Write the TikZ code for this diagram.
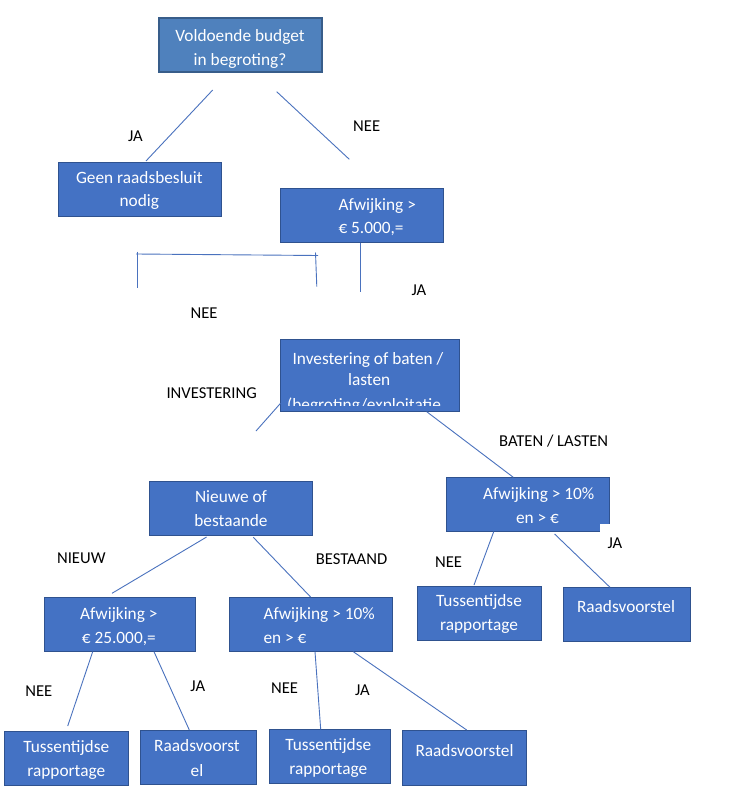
\documentclass[tikz,border=0pt]{standalone}
\usepackage{fontspec}
\setmainfont{Carlito}
\definecolor{boxfill}{HTML}{4472C4}
\definecolor{boxline}{HTML}{2F528F}
\definecolor{topfill}{HTML}{4F81BD}
\definecolor{topline}{HTML}{385D8A}
\definecolor{connc}{HTML}{4A72BE}
\tikzset{
  box/.style={draw=boxline, fill=boxfill, line width=0.9pt, inner sep=0pt, minimum height=54pt},
  topbox/.style={draw=topline, fill=topfill, line width=2.5pt, inner sep=0pt, minimum width=163pt, minimum height=54pt},
  btxt/.style={text=white, font=\fontsize{17.3}{20}\selectfont, inner sep=0pt, anchor=base},
  btxtl/.style={btxt, anchor=base west},
  lbl/.style={text=black, font=\fontsize{16.6}{20}\selectfont, inner sep=0pt, anchor=base},
  connector/.style={draw=connc, line width=0.9pt},
}
\begin{document}
\begin{tikzpicture}[x=1pt,y=-1pt]
\useasboundingbox (0,0) rectangle (736,797);
\fill[white] (0,0) rectangle (736,797);

% ---------- boxes ----------
\node[topbox] (top) at (240.5,45) {};
\node[box, minimum width=163pt] (geen) at (139.5,189) {};
\node[box, minimum width=163pt] (afw5) at (361.5,215) {};
\node[box, minimum width=179pt, minimum height=72pt] (inv) at (369.5,375) {};
\node[box, minimum width=163pt] (nieuw) at (230.5,508) {};
\node[box, minimum width=163pt] (afwR) at (527.5,504) {};
\fill[white] (600,523.5) rectangle (610.5,532);
\node[box, minimum width=151pt] (afw25) at (119.5,624) {};
\node[box, minimum width=163pt] (afwM) at (310.5,624) {};
\node[box, minimum width=124pt] (tusR) at (479,613) {};
\node[box, minimum width=127pt] (raadR) at (626.5,614) {};
\node[box, minimum width=124pt] (tus1) at (66,758) {};
\node[box, minimum width=116pt] (raad1) at (198,757) {};
\node[box, minimum width=121pt] (tus2) at (329.5,756) {};
\node[box, minimum width=124pt, minimum height=55pt] (raad2) at (464,757.5) {};

% ---------- box texts ----------
\begin{scope}
  \clip (top.north west) rectangle ([yshift=4pt]top.south east);
  \node[btxt] (top1) at (240,41.7) {Voldoende budget};
  \node[btxt] (top2) at (240,65.5) {in begroting?};
\end{scope}
\begin{scope}
  \clip (geen.north west) rectangle ([yshift=6.5pt]geen.south east);
  \node[btxt] (geen1) at (139.3,183.3) {Geen raadsbesluit};
  \node[btxt] (geen2) at (139.3,206.7) {nodig};
\end{scope}
\node[btxtl] (afw51) at (338.3,210) {Afwijking >};
\node[btxtl] (afw52) at (338.3,233.3) {€ 5.000,=};
\begin{scope}
  \clip (inv.north west) rectangle ([yshift=5.5pt]inv.south east);
  \node[btxt] (inv1) at (368,364.3) {Investering of baten /};
  \node[btxt] (inv2) at (369.2,385.5) {lasten};
  \node[btxt] (inv3) at (364,410) {(begroting/exploitatie};
\end{scope}
\node[btxt] (nieuw1) at (231,502.5) {Nieuwe of};
\node[btxt] (nieuw2) at (231,526) {bestaande};
\node[btxt] (afwR1) at (538.7,499.3) {Afwijking > 10\%};
\node[btxt] (afwR2) at (537.5,523.3) {en > €};
\node[btxt] (afw251) at (118.8,619.3) {Afwijking >};
\node[btxt] (afw252) at (118.8,643.3) {€ 25.000,=};
\node[btxtl] (afwM1) at (263.3,619.3) {Afwijking > 10\%};
\node[btxtl] (afwM2) at (263.3,643.3) {en > €};
\begin{scope}
  \clip (tusR.north west) rectangle ([yshift=6.5pt]tusR.south east);
  \node[btxt] (tusR1) at (479,606.7) {Tussentijdse};
  \node[btxt] (tusR2) at (479,630) {rapportage};
\end{scope}
\node[btxt] (raadR1) at (626,612.3) {Raadsvoorstel};
\begin{scope}
  \clip (tus1.north west) rectangle ([yshift=4pt]tus1.south east);
  \node[btxt] (tus11) at (66.3,752.3) {Tussentijdse};
  \node[btxt] (tus12) at (66.3,776.7) {rapportage};
\end{scope}
\node[btxt] (raad11) at (197,751.7) {Raadsvoorst};
\node[btxt] (raad12) at (197,776) {el};
\begin{scope}
  \clip (tus2.north west) rectangle ([yshift=4.5pt]tus2.south east);
  \node[btxt] (tus21) at (328.3,750) {Tussentijdse};
  \node[btxt] (tus22) at (328.3,774.3) {rapportage};
\end{scope}
\node[btxt] (raad21) at (464.5,756.7) {Raadsvoorstel};

% ---------- connector end points ----------
\coordinate (c1a) at (212.7,90);   \coordinate (c1b) at (146,161);
\coordinate (c2a) at (276.7,91.7); \coordinate (c2b) at (349.3,159.3);
\coordinate (brL) at (136,254);    \coordinate (brR) at (318,255.5);
\coordinate (brLt) at (137.3,251.7); \coordinate (brLb) at (137.3,288.3);
\coordinate (brRt) at (315.5,252.5); \coordinate (brRb) at (316.8,286.7);
\coordinate (v5a) at (360.7,242.5); \coordinate (v5b) at (360.7,291.7);
\coordinate (i1a) at (280.5,403.3); \coordinate (i1b) at (256,431);
\coordinate (i2a) at (426.7,411.7); \coordinate (i2b) at (513.3,477.3);
\coordinate (n1a) at (206.6,537);   \coordinate (n1b) at (112,593.3);
\coordinate (n2a) at (253.3,537.3); \coordinate (n2b) at (310.6,597);
\coordinate (r1a) at (493.7,531.7); \coordinate (r1b) at (474,585);
\coordinate (r2a) at (554.6,534);   \coordinate (r2b) at (610,587.3);
\coordinate (a1a) at (92.7,651.7);  \coordinate (a1b) at (67.7,726);
\coordinate (a2a) at (154,651.7);   \coordinate (a2b) at (189.3,730);
\coordinate (m1a) at (315,651.7);   \coordinate (m1b) at (320.7,729.3);
\coordinate (m2a) at (353.3,651.7); \coordinate (m2b) at (466.7,730);

% ---------- connectors ----------
\draw[connector] (c1a) -- (c1b);
\draw[connector] (c2a) -- (c2b);
\draw[connector] (brL) -- (brR);
\draw[connector] (brLt) -- (brLb);
\draw[connector] (brRt) -- (brRb);
\draw[connector] (v5a) -- (v5b);
\draw[connector] (i1a) -- (i1b);
\draw[connector] (i2a) -- (i2b);
\draw[connector] (n1a) -- (n1b);
\draw[connector] (n2a) -- (n2b);
\draw[connector] (r1a) -- (r1b);
\draw[connector] (r2a) -- (r2b);
\draw[connector] (a1a) -- (a1b);
\draw[connector] (a2a) -- (a2b);
\draw[connector] (m1a) -- (m1b);
\draw[connector] (m2a) -- (m2b);

% ---------- labels ----------
\node[lbl] (l1) at (135.5,141.7) {JA};
\node[lbl] (l2) at (366.7,131.7) {NEE};
\node[lbl] (l3) at (419,295.7) {JA};
\node[lbl] (l4) at (204,318.3) {NEE};
\node[lbl] (l5) at (211.7,398.3) {INVESTERING};
\node[lbl] (l6) at (553.7,446) {BATEN / LASTEN};
\node[lbl] (l7) at (81.3,563.3) {NIEUW};
\node[lbl] (l8) at (351.5,564.3) {BESTAAND};
\node[lbl] (l9) at (448.5,567.7) {NEE};
\node[lbl] (l10) at (615,548.3) {JA};
\node[lbl] (l11) at (38.8,696.7) {NEE};
\node[lbl] (l12) at (197.8,691.7) {JA};
\node[lbl] (l13) at (284.5,693.3) {NEE};
\node[lbl] (l14) at (362.5,695) {JA};
\end{tikzpicture}
\end{document}
